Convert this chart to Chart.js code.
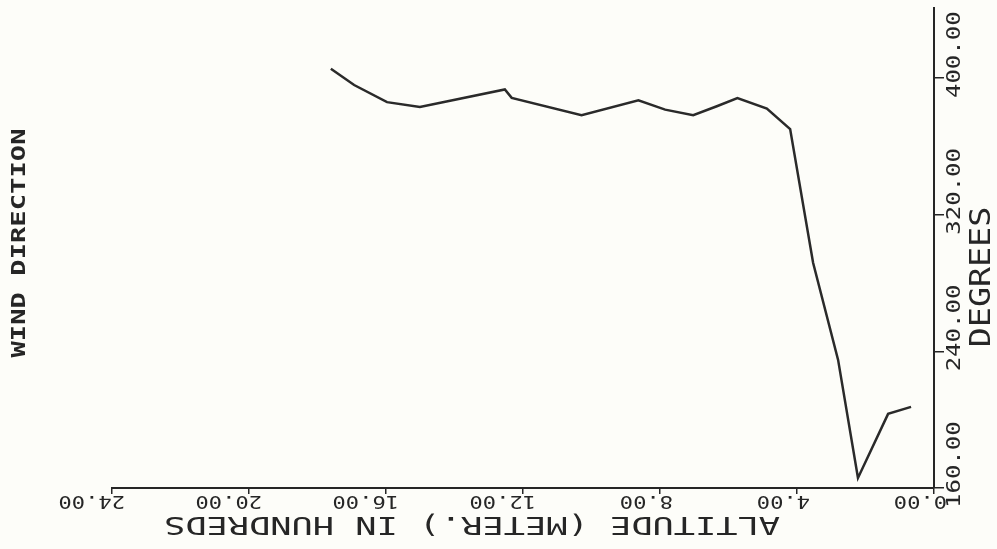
<!DOCTYPE html>
<html>
<head>
<meta charset="utf-8">
<script src="https://cdn.jsdelivr.net/npm/chart.js@4"></script>
<style>
  html, body { margin: 0; padding: 0; background: #fdfdf9; }
  #wrap { width: 997px; height: 549px; }
</style>
</head>
<body>
<div id="wrap"><canvas id="myChart" width="997" height="549"></canvas></div>
<script>
// altitude in hundreds of meters, wind direction in degrees
var altitude = [17.61, 16.93, 15.97, 15.01, 12.53, 12.33, 10.29, 8.63, 7.85, 7.03, 6.34, 5.74, 4.88, 4.20, 3.53, 2.80, 2.22, 1.34, 0.67];
var direction = [405.4, 395.9, 385.9, 383.0, 393.3, 388.4, 378.3, 387.0, 381.5, 378.2, 383.5, 388.3, 382.1, 370.1, 291.9, 235.0, 165.9, 203.4, 207.5];

var xTicks = [0, 4, 8, 12, 16, 20, 24];
var xTickLabels = ['0.00', '4.00', '8.00', '12.00', '16.00', '20.00', '24.00'];
var yTicks = [160, 240, 320, 400];
var yTickLabels = ['160.00', '240.00', '320.00', '400.00'];

var ink = '#262626';
var mono = '"DejaVu Sans Mono", monospace';

// schreibt Text gedreht und horizontal gestreckt (Plotter-Schrift)
function plotText(ctx, txt, x, y, rot, size, stretch, align, weight) {
    ctx.save();
    ctx.translate(x, y);
    ctx.rotate(rot);
    ctx.scale(stretch, 1);
    ctx.font = (weight || 'normal') + ' ' + size + 'px ' + mono;
    ctx.fillStyle = ink;
    ctx.textAlign = align;
    ctx.textBaseline = 'middle';
    ctx.fillText(txt, 0, 0);
    ctx.restore();
}

var labelsPlugin = {
    id: 'plotLabels',
    afterDraw: function (chart) {
        var ctx = chart.ctx;
        var xs = chart.scales.x, ys = chart.scales.y;
        // Beschriftung der x-Achse, auf dem Kopf
        xTicks.forEach(function (v, i) {
            var px = xs.getPixelForValue(v);
            plotText(ctx, xTickLabels[i], px + 13, 500, Math.PI, 17, 1.3, 'left');
        });
        // Beschriftung der y-Achse, senkrecht
        yTicks.forEach(function (v, i) {
            var py = ys.getPixelForValue(v);
            plotText(ctx, yTickLabels[i], 955, py + 20, -Math.PI / 2, 20, 1.2, 'left');
        });
        plotText(ctx, 'DEGREES', 983, 277, -Math.PI / 2, 28, 1.19, 'center');
        plotText(ctx, 'ALTITUDE (METER.) IN HUNDREDS', 472, 523, Math.PI, 24, 1.47, 'center');
        plotText(ctx, 'WIND DIRECTION', 20, 243, -Math.PI / 2, 19, 1.43, 'center', 'bold');
    }
};

var points = altitude.map(function (a, i) { return { x: a, y: direction[i] }; });

var ctx = document.getElementById('myChart').getContext('2d');
var myChart = new Chart(ctx, {
    type: 'line',
    data: {
        datasets: [{
            data: points,
            borderColor: '#2a2a2a',
            borderWidth: 2.5,
            pointRadius: 0,
            tension: 0,
            fill: false
        }]
    },
    options: {
        responsive: false,
        animation: false,
        layout: { padding: { left: 112, top: 8, right: 0, bottom: 0 } },
        plugins: { legend: { display: false }, tooltip: { enabled: false } },
        scales: {
            x: {
                type: 'linear',
                position: 'bottom',
                reverse: true,
                min: 0,
                max: 24,
                afterBuildTicks: function (s) { s.ticks = xTicks.map(function (v) { return { value: v }; }); },
                afterFit: function (s) { s.height = 61; },
                ticks: { display: false },
                grid: { drawOnChartArea: false, tickLength: 6, color: ink, lineWidth: 1.5 },
                border: { display: true, color: ink, width: 2 }
            },
            y: {
                type: 'linear',
                position: 'right',
                min: 160,
                max: 441, // Achse reicht oben etwas über 400 hinaus
                afterBuildTicks: function (s) { s.ticks = yTicks.map(function (v) { return { value: v }; }); },
                afterFit: function (s) { s.width = 63; },
                ticks: { display: false },
                grid: { drawOnChartArea: false, tickLength: 10, color: ink, lineWidth: 1.5 },
                border: { display: true, color: ink, width: 2 }
            }
        }
    },
    plugins: [labelsPlugin]
});
</script>
</body>
</html>
